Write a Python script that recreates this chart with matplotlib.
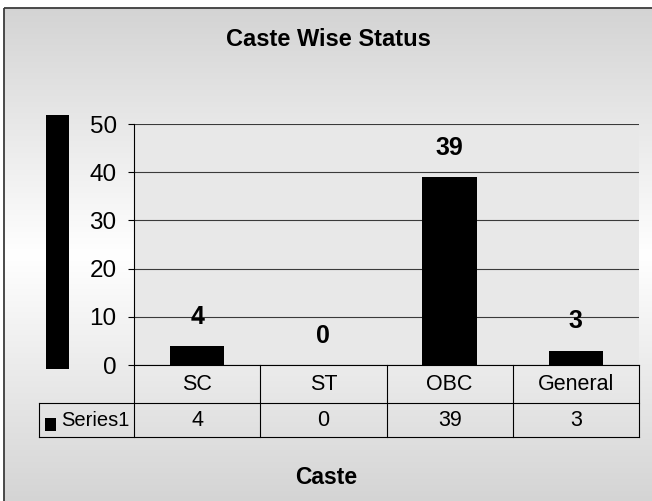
import numpy as np
import matplotlib
matplotlib.use("Agg")
import matplotlib.pyplot as plt
from matplotlib.patches import Rectangle

categories = ["SC", "ST", "OBC", "General"]
values = [4, 0, 39, 3]
series_name = "Series1"
yticks = [0, 10, 20, 30, 40, 50]
title = "Caste Wise Status"
xtitle = "Caste"

plt.rcParams['font.family'] = ['Liberation Sans', 'DejaVu Sans']

W, H = 652, 501
fig = plt.figure(figsize=(W / 100, H / 100), dpi=100)
fig.patch.set_facecolor("white")

def fx(x):
    return x / W

def fy(y):
    return 1 - y / H

# background gradient inside chart frame
bg = fig.add_axes([0, 0, 1, 1], zorder=0)
bg.set_axis_off()
ys = np.linspace(8, H + 4, 300)
mid = 255.0
g = np.where(ys < mid, 0.83 + 0.17 * (ys - 8) / (mid - 8), 1.0 - 0.17 * (ys - mid) / (H + 4 - mid))
img = np.repeat(g[:, None], 2, axis=1)
bg.imshow(np.dstack([img, img, img]), extent=[4, W + 4, H + 4, 8], aspect="auto", interpolation="bilinear")
bg.add_patch(Rectangle((4, 8), W + 10, H + 10, fill=False, edgecolor="#3c3c3c", lw=1.3))
bg.set_xlim(0, W)
bg.set_ylim(H, 0)
# y-axis title box (rendered as a solid black block)
bg.add_patch(Rectangle((46, 115), 23, 254, facecolor="black", edgecolor="none"))

# main plot
L, T, R, B = 134, 124, 639, 365
ax = fig.add_axes([fx(L), fy(B), (R - L) / W, (B - T) / H], zorder=2)
ax.set_facecolor("#e8e8e8")
x = np.arange(len(categories))
ax.bar(x, values, width=0.43, color="black", zorder=3)
ax.set_xlim(-0.5, len(categories) - 0.5)
ax.set_ylim(0, 50)
ax.set_yticks(yticks)
ax.set_yticklabels([str(v) for v in yticks], fontsize=17.5)
ax.tick_params(axis="y", length=4.5, width=0.8, pad=8, direction="out")
ax.set_xticks([])
ax.grid(axis="y", color="#3a3a3a", lw=0.8, zorder=1)
for s in ["top", "right"]:
    ax.spines[s].set_visible(False)
ax.spines["left"].set_color("black")
ax.spines["left"].set_linewidth(0.8)
ax.spines["bottom"].set_color("black")
ax.spines["bottom"].set_linewidth(0.8)
for xi, v in zip(x, values):
    ax.annotate(str(v), (xi, v), xytext=(0, 21), textcoords="offset points",
                ha="center", va="center", fontsize=18, fontweight="bold", zorder=4)

# data table
TB = 437
tab = fig.add_axes([fx(L), fy(TB), (R - L) / W, (TB - B) / H], zorder=2)
tab.set_axis_off()
tab.set_xlim(-0.5, len(categories) - 0.5)
tab.set_ylim(TB - B, 0)
rowsplit = 38
per_px = len(categories) / (R - L)
xleft = -0.5 - (L - 39) * per_px
lkw = dict(color="black", lw=0.8, clip_on=False)
tab.plot([xleft, len(categories) - 0.5], [rowsplit, rowsplit], **lkw)
tab.plot([xleft, len(categories) - 0.5], [TB - B, TB - B], **lkw)
tab.plot([xleft, xleft], [rowsplit, TB - B], **lkw)
for b in np.arange(len(categories) + 1) - 0.5:
    tab.plot([b, b], [0, TB - B], **lkw)
for xi, c, v in zip(x, categories, values):
    tab.text(xi, rowsplit / 2 + 1, c, ha="center", va="center", fontsize=15.5)
    tab.text(xi, (rowsplit + TB - B) / 2 + 1, str(v), ha="center", va="center", fontsize=15.5)
tab.add_patch(Rectangle((-0.5 - (L - 45) * per_px, 53), 11 * per_px, 13,
                        facecolor="black", edgecolor="none", clip_on=False))
tab.text(-0.5 - (L - 61) * per_px, (rowsplit + TB - B) / 2 + 1, series_name,
         ha="left", va="center", fontsize=14.5)

# titles
fig.text(fx(328), fy(40), title, ha="center", va="center", fontsize=17, fontweight="bold")
fig.text(fx(326), fy(478), xtitle, ha="center", va="center", fontsize=16.5, fontweight="bold")

fig.savefig("out.png", dpi=100)
